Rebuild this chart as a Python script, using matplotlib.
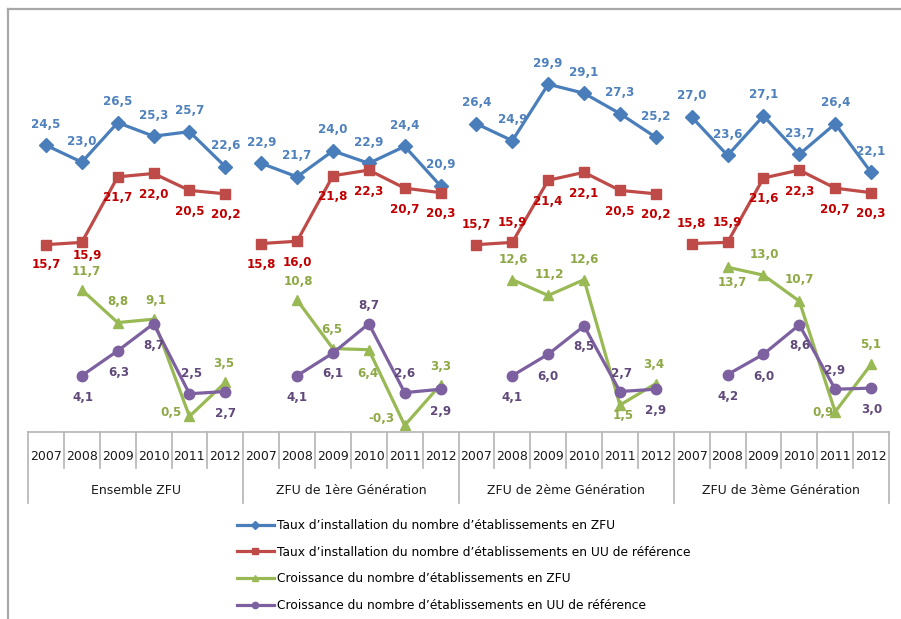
import matplotlib
matplotlib.use("Agg")
import matplotlib.pyplot as plt
from matplotlib.lines import Line2D
import numpy as np

# ---------------- data ----------------
groups = ["Ensemble ZFU", "ZFU de 1ère Génération", "ZFU de 2ème Génération", "ZFU de 3ème Génération"]
years = ["2007", "2008", "2009", "2010", "2011", "2012"]

taux_zfu = [[24.5, 23.0, 26.5, 25.3, 25.7, 22.6],
            [22.9, 21.7, 24.0, 22.9, 24.4, 20.9],
            [26.4, 24.9, 29.9, 29.1, 27.3, 25.2],
            [27.0, 23.6, 27.1, 23.7, 26.4, 22.1]]
taux_uu = [[15.7, 15.9, 21.7, 22.0, 20.5, 20.2],
           [15.8, 16.0, 21.8, 22.3, 20.7, 20.3],
           [15.7, 15.9, 21.4, 22.1, 20.5, 20.2],
           [15.8, 15.9, 21.6, 22.3, 20.7, 20.3]]
crois_zfu = [[None, 11.7, 8.8, 9.1, 0.5, 3.5],
             [None, 10.8, 6.5, 6.4, -0.3, 3.3],
             [None, 12.6, 11.2, 12.6, 1.5, 3.4],
             [None, 13.7, 13.0, 10.7, 0.9, 5.1]]
crois_uu = [[None, 4.1, 6.3, 8.7, 2.5, 2.7],
            [None, 4.1, 6.1, 8.7, 2.6, 2.9],
            [None, 4.1, 6.0, 8.5, 2.7, 2.9],
            [None, 4.2, 6.0, 8.6, 2.9, 3.0]]

series_names = ["Taux d\u2019installation du nombre d\u2019établissements en ZFU",
                "Taux d\u2019installation du nombre d\u2019établissements en UU de référence",
                "Croissance du nombre d\u2019établissements en ZFU",
                "Croissance du nombre d\u2019établissements en UU de référence"]

# ---------------- styles / label placement (pixels) ----------------
W, H = 901, 619
line_colors = ["#4A7EBB", "#BE4B48", "#98B954", "#7D60A0"]
label_colors = ["#4F81BD", "#C00000", "#8DA845", "#60497A"]
markers = ["D", "s", "^", "o"]
msizes = [7.5, 7.5, 7.5, 7.5]

up, dn = (0, 21), (0, -21)
lab_off = [
    [[up] * 6] * 4,
    [[(0, -20), (6, -13), dn, dn, dn, dn],
     [dn] * 6,
     [(0, 20), (0, 20), dn, dn, dn, dn],
     [(0, 20), (0, 20), dn, dn, dn, dn]],
    [[None, (5, 18), (0, 21), (2, 19), (-18, 4), (-2, 19)],
     [None, (1, 18), (-1, 19), (-1, -24), (-23, 7), (0, 18)],
     [None, (1, 20), (1, 21), (0, 20), (3, -10), (-2, 19)],
     [None, (5, -15), (1, 21), (0, 22), (-12, -1), (0, 20)]],
    [[None, (1, -22), (1, -22), (0, -22), (2, 20), (0, -22)],
     [None, (0, -22), (0, -20), (0, 18), (0, 19), (0, -22)],
     [None, (0, -22), (0, -22), (0, -21), (2, 18), (0, -21)],
     [None, (0, -22), (0, -22), (0, -21), (-1, 19), (1, -21)]],
]


def fx(x):
    return x / W


def fy(y):
    return 1 - y / H


fig = plt.figure(figsize=(W / 100, H / 100), dpi=100)
fig.patch.set_facecolor("white")

# plot area
ax_l, ax_r, ax_t, ax_b = 28, 889, 30, 432
ax = fig.add_axes([fx(ax_l), fy(ax_b), (ax_r - ax_l) / W, (ax_b - ax_t) / H])
ax.set_xlim(-0.5, 23.5)
ax.set_ylim(-0.885, 34.7)
ax.axis("off")

all_series = [taux_zfu, taux_uu, crois_zfu, crois_uu]
for s, data in enumerate(all_series):
    for g, vals in enumerate(data):
        xs = np.arange(6) + g * 6
        ys = np.array([np.nan if v is None else v for v in vals], dtype=float)
        ax.plot(xs, ys, color=line_colors[s], lw=2.3, marker=markers[s],
                ms=msizes[s], mec=line_colors[s], mfc=line_colors[s],
                zorder=2 + s, solid_joinstyle="miter", clip_on=False)
        for i, v in enumerate(vals):
            if v is None:
                continue
            dx, dy = lab_off[s][g][i]
            ax.annotate(f"{v:.1f}".replace(".", ","), (xs[i], v),
                        xytext=(dx, dy), textcoords="offset pixels",
                        ha="center", va="center", fontsize=8.6,
                        fontweight="bold", color=label_colors[s],
                        zorder=10, annotation_clip=False)

# category table under the plot
tab_top, tab_mid, tab_bot = 432, 468, 503
tc = "#B4B4B4"
tab = fig.add_axes([fx(ax_l), fy(tab_bot), (ax_r - ax_l) / W, (tab_bot - tab_top) / H])
tab.set_xlim(-0.5, 23.5)
tab.set_ylim(tab_bot, tab_top)
tab.axis("off")
tab.plot([-0.5, 23.5], [tab_top, tab_top], color=tc, lw=1.2, clip_on=False)
for k in range(25):
    bottom = tab_bot if k % 6 == 0 else tab_mid
    tab.plot([k - 0.5, k - 0.5], [tab_top, bottom], color=tc, lw=1.2, clip_on=False)
for g, name in enumerate(groups):
    for i, yr in enumerate(years):
        tab.text(g * 6 + i, 457, yr, ha="center", va="center", fontsize=9, color="#1A1A1A")
    tab.text(g * 6 + 2.5, 490, name, ha="center", va="center", fontsize=9, color="#1A1A1A")

# legend
handles = [Line2D([], [], color=line_colors[s], lw=2.3, marker=markers[s], ms=4.5,
                  mfc=line_colors[s], mec=line_colors[s]) for s in range(4)]
fig.legend(handles, series_names, loc="upper left",
           bbox_to_anchor=(fx(232), fy(514)), frameon=False, fontsize=8.8,
           handlelength=3.0, handletextpad=0.3, labelspacing=1.12,
           borderaxespad=0, borderpad=0.4)

# outer frame (top and left edges visible)
fig.add_artist(Line2D([fx(8), fx(901)], [fy(9), fy(9)], color="#A8A8A8", lw=1.6))
fig.add_artist(Line2D([fx(8), fx(8)], [fy(9), fy(619)], color="#A8A8A8", lw=1.6))

fig.savefig("out.png", dpi=100, facecolor="white")
